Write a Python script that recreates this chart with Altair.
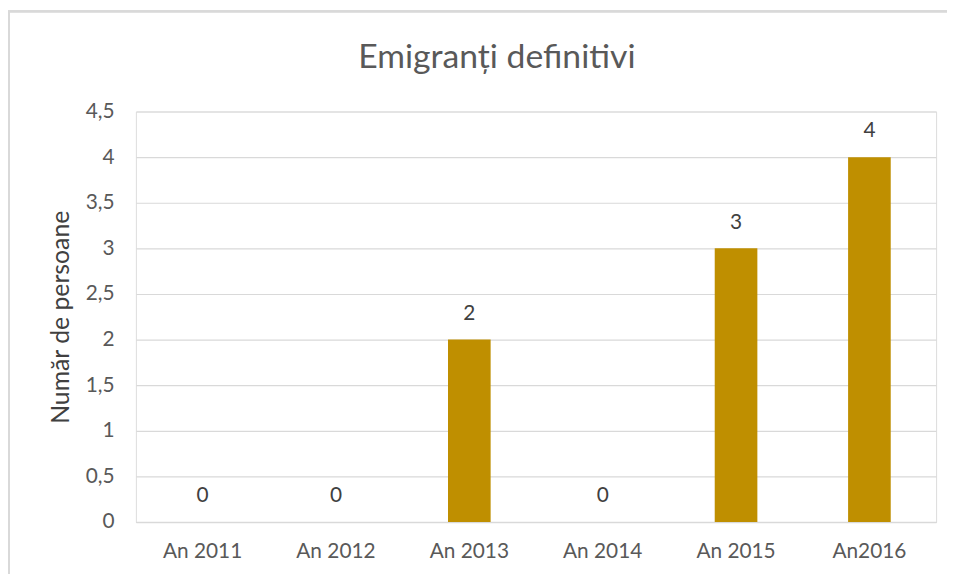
import altair as alt
import pandas as pd

title_text = "Emigranți definitivi"
y_title = "Număr de persoane"
categories = ["An 2011", "An 2012", "An 2013", "An 2014", "An 2015", "An2016"]
values = [0, 0, 2, 0, 3, 4]
y_ticks = [0, 0.5, 1, 1.5, 2, 2.5, 3, 3.5, 4, 4.5]

df = pd.DataFrame({"an": categories, "val": values})

FONT = "Lato"
GREY = "#595959"

base = alt.Chart(df)

bars = base.mark_bar(color="#BF8F00", size=43).encode(
    x=alt.X("an:N", sort=categories, title=None,
            scale=alt.Scale(paddingInner=0, paddingOuter=0),
            axis=alt.Axis(labelAngle=0, labelFontSize=21, labelColor=GREY, labelFont=FONT,
                          labelPadding=19, ticks=False, domainColor="#d9d9d9", domainWidth=1.5,
                          grid=False)),
    y=alt.Y("val:Q", title=y_title,
            scale=alt.Scale(domain=[0, 4.5], nice=False),
            axis=alt.Axis(values=y_ticks, labelExpr="replace(format(datum.value, ''), '.', ',')",
                          labelFontSize=21, labelColor=GREY, labelFont=FONT, labelPadding=22,
                          ticks=False, domain=False, gridColor="#d9d9d9", gridWidth=1.2,
                          titleFontSize=25, titleColor="#404040", titleFont=FONT,
                          titleFontWeight="normal", titlePadding=12)),
)

labels = base.mark_text(fontSize=21, color="#404040", font=FONT, baseline="alphabetic", dy=-20).encode(
    x=alt.X("an:N", sort=categories),
    y=alt.Y("val:Q"),
    text=alt.Text("val:Q"),
)

title_mark = alt.Chart(pd.DataFrame({"t": [title_text]})).mark_text(
    fontSize=34, color=GREY, font=FONT, baseline="alphabetic", align="center"
).encode(x=alt.value(364), y=alt.value(-44), text="t:N")

border_top = alt.Chart(df).mark_rule(color="#d9d9d9", strokeWidth=2).encode(
    x=alt.value(-129), x2=alt.value(826), y=alt.value(-101)
)
border_left = alt.Chart(df).mark_rule(color="#d9d9d9", strokeWidth=2).encode(
    x=alt.value(-128), y=alt.value(-101), y2=alt.value(480)
)

chart = alt.layer(border_top, border_left, title_mark, bars, labels).properties(
    width=807, height=414,
    autosize=alt.AutoSizeParams(type="none"),
    padding={"left": 129, "top": 102, "right": 11, "bottom": 50},
).configure_view(stroke=None).configure(background="white")

chart.save("out.html", embed_options={"renderer": "svg", "actions": False})
